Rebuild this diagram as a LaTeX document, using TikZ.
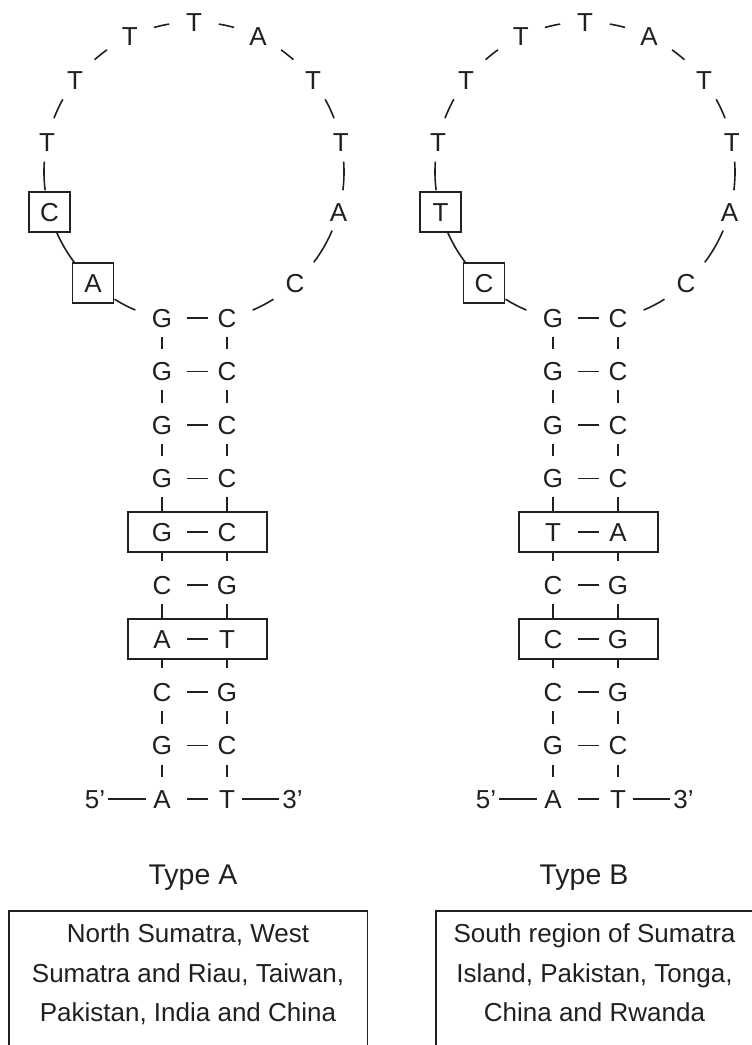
\documentclass[tikz,border=0pt]{standalone}
\usepackage{fontspec}
\setmainfont{Liberation Sans}
\definecolor{ink}{RGB}{35,31,32}
\tikzset{
  strand/.style={line width=1.6pt, draw=ink},
  letter/.style={inner sep=0pt, outer sep=0pt, text height=18.6pt, text depth=0pt,
                 font=\fontsize{26}{30}\selectfont, text=ink},
  boxletter/.style={letter, draw=ink, line width=1.6pt, minimum width=41pt, minimum height=40pt},
  pairbox/.style={draw=ink, line width=1.6pt, inner sep=0pt, minimum width=139pt, minimum height=40pt},
  bond/.style={strand, shorten <=25pt, shorten >=19pt},
  vlink/.style={strand, shorten <=19pt, shorten >=22pt},
  typelabel/.style={inner sep=0pt, font=\fontsize{28.5}{34}\selectfont, text=ink},
  regiontext/.style={inner sep=0pt, align=center, font=\fontsize{26}{39.5}\selectfont, text=ink},
  regionbox/.style={line width=1.6pt, draw=ink}
}
% #1 prefix, #2 x offset, #3 lower boxed loop letter, #4 upper boxed loop letter,
% #5 left column, #6 right column, #7 type label
\newcommand{\hairpin}[7]{%
  \coordinate (#1ctr) at (#2+194,-172);
  \path (#1ctr) ++(227.7:150) node[boxletter] (#1loop1) {#3};
  \path (#1ctr) ++(195.5:150) node[boxletter] (#1loop2) {#4};
  \foreach \ang/\ch [count=\i from 3] in {168.4/T,142.5/T,115.3/T,90/T,64.7/A,37.5/T,11.6/T,-15.5/A,-47.7/C}
    \path (#1ctr) ++(\ang:150) node[letter] (#1loop\i) {\ch};
  \foreach \s/\e in {-67/-58,-37/-23,-7/4,21/29,48.5/54.5,74.5/80.5,99.5/105.5,125.5/131.5,151/159,176/187,203.6/217.4,238/247}
    \draw[strand] (#1ctr) ++(\s:150) arc[start angle=\s, end angle=\e, radius=150];
  \foreach \ch [count=\k from 0] in {#5}
    \node[letter] (#1L\k) at (#2+162,{-318-53.45*\k}) {\ch};
  \foreach \ch [count=\k from 0] in {#6}
    \node[letter] (#1R\k) at (#2+227,{-318-53.45*\k}) {\ch};
  \node[pairbox] (#1B4) at (#2+197.5,{-318-53.45*4}) {};
  \node[pairbox] (#1B6) at (#2+197.5,{-318-53.45*6}) {};
  \foreach \k in {0,...,9}
    \draw[bond] (#1L\k.center) -- (#1R\k.center);
  \foreach \k/\n in {0/1,1/2,2/3,7/8,8/9} {
    \draw[vlink] (#1L\k.center) -- (#1L\n.center);
    \draw[vlink] (#1R\k.center) -- (#1R\n.center);
  }
  \foreach \k/\n in {3/4,5/6} {
    \draw[strand, shorten <=18.5pt] (#1L\k.center) -- (#1L\k |- #1B\n.north);
    \draw[strand, shorten <=18.5pt] (#1R\k.center) -- (#1R\k |- #1B\n.north);
  }
  \foreach \k/\n in {4/5,6/7} {
    \draw[strand, shorten >=24pt] (#1L\k |- #1B\k.south) -- (#1L\n.center);
    \draw[strand, shorten >=24pt] (#1R\k |- #1B\k.south) -- (#1R\n.center);
  }
  \node[letter] (#1five) at (#2+95,{-318-53.45*9}) {5’};
  \node[letter] (#1three) at (#2+292.5,{-318-53.45*9}) {3’};
  \draw[strand, shorten <=13pt, shorten >=16pt] (#1five.center) -- (#1L9.center);
  \draw[strand, shorten <=15pt, shorten >=14pt] (#1R9.center) -- (#1three.center);
  \node[typelabel, anchor=base] (#1type) at (#2+193,-884) {#7};
}
\begin{document}
\begin{tikzpicture}[x=1pt,y=1pt]
\useasboundingbox (0,0) rectangle (752,-1045);
\clip (0,0) rectangle (752,-1045);
\hairpin{a}{0}{A}{C}{G,G,G,G,G,C,A,C,G,A}{C,C,C,C,C,G,T,G,C,T}{Type A}
\hairpin{b}{391}{C}{T}{G,G,G,G,T,C,C,C,G,A}{C,C,C,C,A,G,G,G,C,T}{Type B}
% region boxes
\coordinate (ra1) at (9,-911);
\coordinate (ra2) at (367.5,-1070);
\draw[regionbox] (ra1) rectangle (ra2);
\node[regiontext, anchor=north] (ratext) at (188,-923.7)
  {North Sumatra, West\\Sumatra and Riau, Taiwan,\\Pakistan, India and China};
\coordinate (rb1) at (436,-911);
\coordinate (rb2) at (770,-1070);
\draw[regionbox] (rb1) rectangle (rb2);
\node[regiontext, anchor=north] (rbtext) at (594.5,-923.7)
  {South region of Sumatra\\Island, Pakistan, Tonga,\\China and Rwanda};
\end{tikzpicture}
\end{document}
